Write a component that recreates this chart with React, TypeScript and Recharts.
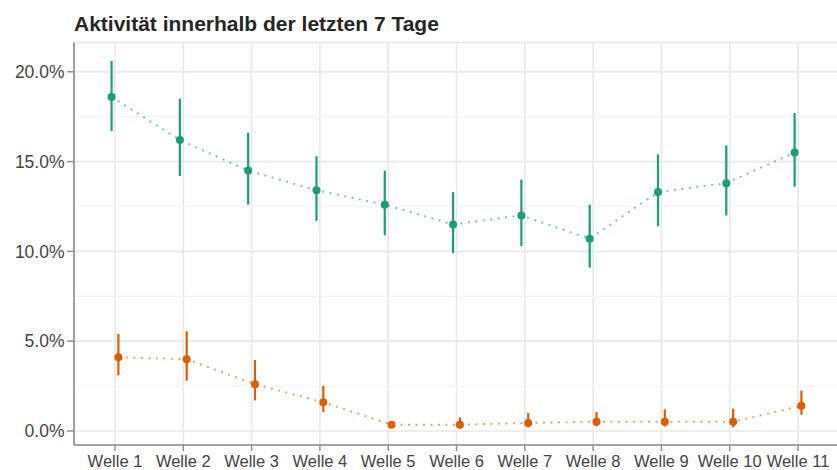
import { LineChart, Line, XAxis, YAxis, CartesianGrid, ReferenceLine, ErrorBar } from 'recharts'

// Wellen (Kategorien der x-Achse)
const waves = ['Welle 1', 'Welle 2', 'Welle 3', 'Welle 4', 'Welle 5', 'Welle 6', 'Welle 7', 'Welle 8', 'Welle 9', 'Welle 10', 'Welle 11']

// grüne Reihe: Anteil in % mit Konfidenzintervall
const greenMean = [18.6, 16.2, 14.5, 13.4, 12.6, 11.5, 12.0, 10.7, 13.3, 13.8, 15.5]
const greenLow  = [16.7, 14.2, 12.6, 11.7, 10.9,  9.9, 10.3,  9.1, 11.4, 12.0, 13.6]
const greenHigh = [20.6, 18.5, 16.6, 15.3, 14.5, 13.3, 14.0, 12.6, 15.4, 15.9, 17.7]

// orange Reihe
const orangeMean = [4.1, 4.0, 2.6, 1.6, 0.35, 0.35, 0.45, 0.52, 0.52, 0.52, 1.4]
const orangeLow  = [3.1, 2.8, 1.7, 1.05, 0.2, 0.15, 0.2, 0.25, 0.25, 0.2, 0.9]
const orangeHigh = [5.4, 5.55, 3.95, 2.5, 0.5, 0.76, 1.0, 1.06, 1.2, 1.24, 2.25]

const yTicks = [0, 5, 10, 15, 20]
const yMinor = [2.5, 7.5, 12.5, 17.5]

const GREEN = '#1b9e77'
const ORANGE = '#d95f02'
const DODGE = 0.05

const build = (mean: number[], low: number[], high: number[], shift: number) =>
  mean.map((v, i) => ({ x: i + 1 + shift, y: v, err: [v - low[i], high[i] - v] }))

const greenData = build(greenMean, greenLow, greenHigh, -DODGE)
const orangeData = build(orangeMean, orangeLow, orangeHigh, DODGE)

const FONT = '"Liberation Sans", Arial, sans-serif'

export default function App() {
  return (
    <div style={{ position: 'absolute', left: 0, top: 0, width: 837, height: 470, overflow: 'hidden', background: '#fff', fontFamily: FONT }}>
      <div style={{ position: 'absolute', left: 74, top: 13, fontSize: 21, lineHeight: '21px', fontWeight: 'bold', color: '#262626', whiteSpace: 'nowrap' }}>
        Aktivität innerhalb der letzten 7 Tage
      </div>
      <LineChart width={839} height={470} margin={{ top: 42.5, right: 0, left: 0, bottom: 0 }} style={{ position: 'absolute', left: 0, top: 0 }}>
        {yMinor.map((v) => (
          <ReferenceLine key={v} y={v} stroke="#f3f3f3" strokeWidth={1.2} />
        ))}
        <CartesianGrid stroke="#e8e8e8" strokeWidth={1.7} />
        <XAxis
          xAxisId="top"
          orientation="top"
          type="number"
          dataKey="x"
          domain={[0.4, 11.6]}
          height={0}
          tick={false}
          tickLine={false}
          axisLine={{ stroke: '#8c8c8c', strokeWidth: 1.8 }}
        />
        <XAxis
          type="number"
          dataKey="x"
          domain={[0.4, 11.6]}
          ticks={waves.map((_, i) => i + 1)}
          tickFormatter={(v) => waves[Number(v) - 1] ?? ''}
          allowDataOverflow
          height={25}
          tickSize={6}
          tickMargin={4.5}
          interval={0}
          tick={{ fontSize: 16.5, fill: '#444', fontFamily: FONT }}
          tickLine={{ stroke: '#8c8c8c', strokeWidth: 1.4 }}
          axisLine={{ stroke: '#8c8c8c', strokeWidth: 1.6 }}
        />
        <YAxis
          type="number"
          domain={[-0.78, 21.63]}
          ticks={yTicks}
          allowDataOverflow
          width={74}
          tickSize={7}
          tickMargin={2.5}
          tickFormatter={(v) => `${Number(v).toFixed(1)}%`}
          tick={{ fontSize: 17.5, fill: '#444', fontFamily: FONT }}
          tickLine={{ stroke: '#8c8c8c', strokeWidth: 1.4 }}
          axisLine={{ stroke: '#8c8c8c', strokeWidth: 1.6 }}
        />
        <Line
          data={greenData}
          dataKey="y"
          type="linear"
          stroke={GREEN}
          strokeOpacity={0.6}
          strokeWidth={2}
          strokeDasharray="2 5.5"
          dot={{ r: 4, fill: GREEN, stroke: GREEN, strokeWidth: 0, strokeOpacity: 1, strokeDasharray: '' }}
          activeDot={false}
          isAnimationActive={false}
        >
          <ErrorBar dataKey="err" direction="y" width={0} stroke={GREEN} strokeWidth={2.2} isAnimationActive={false} />
        </Line>
        <Line
          data={orangeData}
          dataKey="y"
          type="linear"
          stroke={ORANGE}
          strokeOpacity={0.6}
          strokeWidth={2}
          strokeDasharray="2 5.5"
          dot={{ r: 4, fill: ORANGE, stroke: ORANGE, strokeWidth: 0, strokeOpacity: 1, strokeDasharray: '' }}
          activeDot={false}
          isAnimationActive={false}
        >
          <ErrorBar dataKey="err" direction="y" width={0} stroke={ORANGE} strokeWidth={2.2} isAnimationActive={false} />
        </Line>
      </LineChart>
    </div>
  )
}
